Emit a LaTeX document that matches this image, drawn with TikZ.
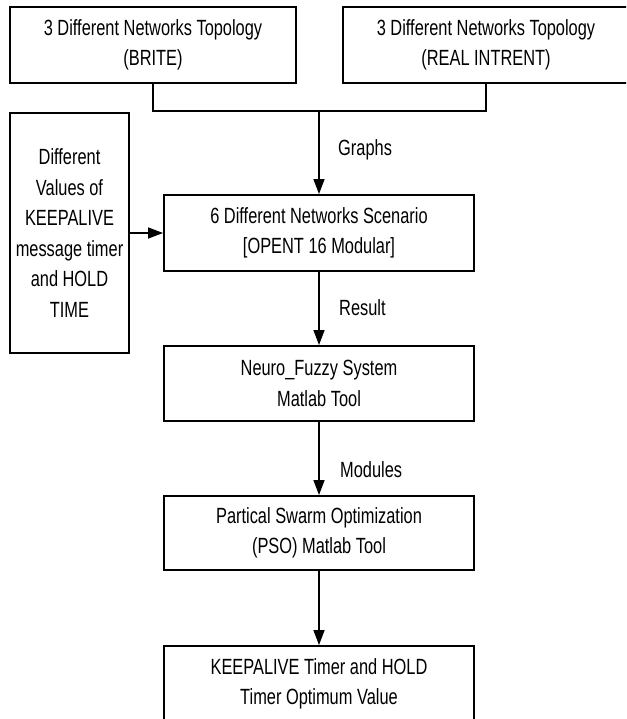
\documentclass[tikz,border=0pt]{standalone}
\usepackage{fontspec}
\setmainfont{Liberation Sans}[FakeStretch=0.745]
\usetikzlibrary{arrows.meta}
\usetikzlibrary{positioning}

\tikzset{
  box/.style={draw, line width=1.9pt, rectangle, align=center, inner sep=0pt,
    font=\fontsize{22}{30.5}\selectfont},
  arr/.style={line width=1.5pt, -{Triangle[length=15pt, width=11pt]}},
  lbl/.style={anchor=west, inner sep=0pt, font=\fontsize{22}{30.5}\selectfont}
}

\begin{document}
\begin{tikzpicture}[x=1pt, y=-1pt]
      \useasboundingbox (0,0) rectangle (626,719);
      \clip (0,0) rectangle (626,719);

      % Topology sources
      \node[box, minimum width=286pt, minimum height=76pt] (brite) at (153,45)
        {3 Different Networks Topology\\(BRITE)};
      \node[box, minimum width=286pt, minimum height=76pt] (real) at (486,45)
        {3 Different Networks Topology\\(REAL INTRENT)};

      % Timer values
      \node[box, minimum width=119pt, minimum height=240pt] (vals) at (69.5,233)
        {Different\\Values of\\KEEPALIVE\\message timer\\and HOLD\\TIME};

      % Main chain
      \node[box, minimum width=310pt, minimum height=76pt] (scen) at (319,233)
        {6 Different Networks Scenario\\{[}OPENT 16 Modular{]}};
      \node[box, minimum width=310pt, minimum height=75pt] (neuro) at (319,383.5)
        {Neuro\_Fuzzy System\\Matlab Tool};
      \node[box, minimum width=310pt, minimum height=74pt] (pso) at (319,533)
        {Partical Swarm Optimization\\(PSO) Matlab Tool};
      \node[box, minimum width=310pt, minimum height=76pt] (final) at (319,684)
        {KEEPALIVE Timer and HOLD\\Timer Optimum Value};

      % Connectors
      \coordinate (join) at (319,111);
      \draw[line width=1.5pt] (brite.south) |- (join) -| (real.south);
      \draw[arr] (join) -- (scen.north);
      \draw[arr] (vals) -- (scen);
      \draw[arr] (scen) -- (neuro);
      \draw[arr] (neuro) -- (pso);
      \draw[arr] (pso) -- (final);

      % Labels
      \node[lbl] (graphs) at (338,150) {Graphs};
      \node[lbl] (result) at (339,308) {Result};
      \node[lbl] (modules) at (340,470) {Modules};
\end{tikzpicture}
\end{document}
